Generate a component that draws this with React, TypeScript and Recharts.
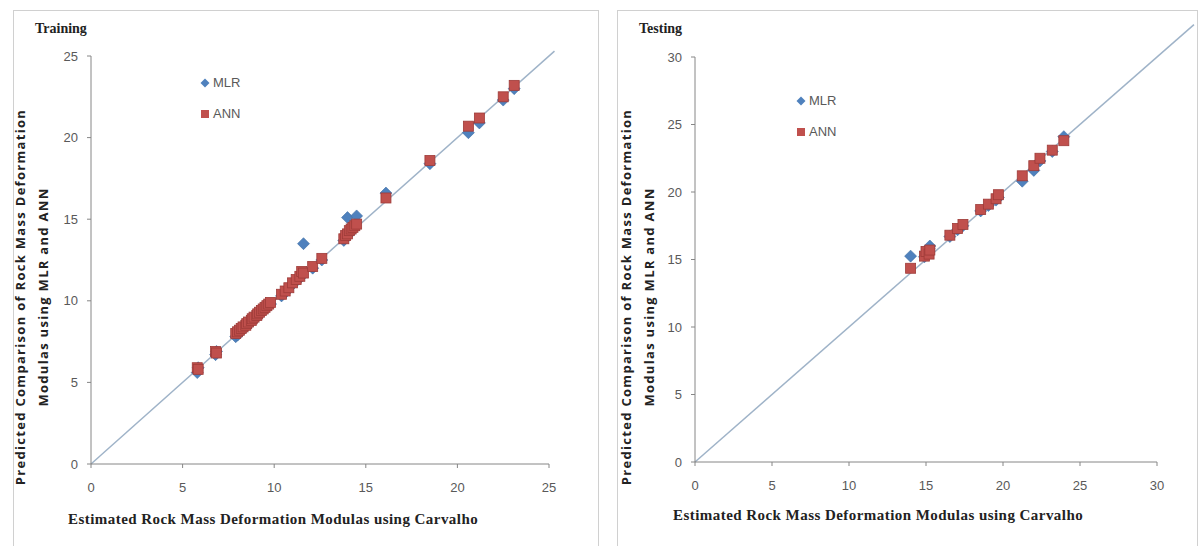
import { ScatterChart, Scatter, XAxis, YAxis, ReferenceLine } from 'recharts';

// Training set: estimated (Carvalho) vs predicted by MLR / ANN
const trainCarvalho = [
  5.8, 5.85, 6.8, 6.85, 7.9, 8.0, 8.1, 8.2, 8.3, 8.45, 8.5, 8.6, 8.75, 8.8, 8.9, 9.05,
  9.1, 9.2, 9.3, 9.4, 9.5, 9.6, 9.7, 9.8, 10.4, 10.6, 10.8, 11.0, 11.2, 11.4, 11.5, 11.6,
  12.1, 12.6, 13.8, 13.9, 14.0, 14.1, 14.2, 14.3, 14.4, 14.5, 16.1, 18.5, 20.6, 21.2, 22.5, 23.1,
];
const trainMLR = [
  5.6, 5.9, 6.7, 6.9, 7.8, 7.9, 8.1, 8.2, 8.3, 8.4, 8.5, 8.6, 8.7, 8.8, 8.9, 9.0,
  9.1, 9.2, 9.3, 9.4, 9.5, 9.6, 9.7, 9.8, 10.3, 10.5, 10.8, 11.0, 11.2, 11.4, 11.6, 13.5,
  12.0, 12.5, 13.7, 13.9, 15.1, 14.1, 14.3, 14.4, 14.5, 15.2, 16.6, 18.4, 20.3, 20.9, 22.3, 23.0,
];
const trainANN = [
  5.9, 5.8, 6.9, 6.8, 8.0, 8.1, 8.2, 8.3, 8.4, 8.5, 8.6, 8.7, 8.8, 8.9, 9.0, 9.1,
  9.2, 9.3, 9.4, 9.5, 9.6, 9.7, 9.8, 9.9, 10.4, 10.6, 10.8, 11.1, 11.3, 11.5, 11.8, 11.7,
  12.1, 12.6, 13.8, 14.0, 14.1, 14.3, 14.4, 14.5, 14.6, 14.7, 16.3, 18.6, 20.7, 21.2, 22.5, 23.2,
];

// Testing set
const testCarvalho = [
  14.0, 14.9, 15.0, 15.2, 15.25, 16.55, 17.05, 17.4, 18.55, 19.05, 19.55, 19.7,
  21.25, 22.0, 22.4, 23.2, 23.95,
];
const testMLR = [
  15.25, 15.2, 15.5, 15.8, 16.0, 16.7, 17.2, 17.5, 18.6, 19.0, 19.4, 19.6,
  20.8, 21.6, 22.3, 23.0, 24.1,
];
const testANN = [
  14.35, 15.25, 15.6, 15.4, 15.7, 16.8, 17.3, 17.6, 18.7, 19.1, 19.5, 19.8,
  21.2, 21.95, 22.5, 23.1, 23.8,
];

const trainTicks = [0, 5, 10, 15, 20, 25];
const testTicks = [0, 5, 10, 15, 20, 25, 30];
const trainLineEnd = 25.3;
const testLineEnd = 32.4;

const MLR_COLOR = '#4F81BD';
const ANN_COLOR = '#C0504D';
const AXIS_COLOR = '#868686';
const TICK_TEXT = '#595959';

const Diamond = (props: any) => {
  const { cx, cy } = props;
  const r = 6;
  return (
    <polygon
      points={`${cx},${cy - r} ${cx + r},${cy} ${cx},${cy + r} ${cx - r},${cy}`}
      fill={MLR_COLOR}
      stroke="#3f6ea5"
      strokeWidth={0.6}
    />
  );
};

const Square = (props: any) => {
  const { cx, cy } = props;
  const s = 5;
  return (
    <rect x={cx - s} y={cy - s} width={s * 2} height={s * 2} fill={ANN_COLOR} stroke="#9e3b38" strokeWidth={0.8} />
  );
};

interface PanelProps {
  left: number;
  width: number;
  title: string;
  xs: number[];
  mlr: number[];
  ann: number[];
  ticks: number[];
  lineEnd: number;
  marginRight: number;
  marginTop: number;
  marginBottom: number;
  legendX: number;
  legendY: number;
  yLabelX: number;
  xLabelX: number;
  xLabelY: number;
}

function Panel(p: PanelProps) {
  const mlrData = p.xs.map((x, i) => ({ x, y: p.mlr[i] }));
  const annData = p.xs.map((x, i) => ({ x, y: p.ann[i] }));
  const max = p.ticks[p.ticks.length - 1];
  const height = 536;

  return (
    <>
      <div
        style={{
          position: 'absolute',
          left: p.left,
          top: 10,
          width: p.width,
          height: 560,
          border: '1px solid #d0d0d0',
          boxSizing: 'border-box',
        }}
      />
      <div style={{ position: 'absolute', left: p.left, top: 10 }}>
        <ScatterChart
          width={p.width}
          height={height}
          margin={{ top: p.marginTop, right: p.marginRight, left: 0, bottom: p.marginBottom }}
        >
          <XAxis
            type="number"
            dataKey="x"
            domain={[0, max]}
            ticks={p.ticks}
            height={30}
            stroke={AXIS_COLOR}
            tickSize={4}
            tickMargin={15}
            tick={{ fill: TICK_TEXT, fontSize: 13, fontFamily: 'Liberation Sans' }}
          />
          <YAxis
            type="number"
            dataKey="y"
            domain={[0, max]}
            ticks={p.ticks}
            width={78}
            stroke={AXIS_COLOR}
            tickSize={4}
            tickMargin={9}
            tick={{ fill: TICK_TEXT, fontSize: 13, fontFamily: 'Liberation Sans' }}
          />
          <ReferenceLine
            segment={[
              { x: 0, y: 0 },
              { x: p.lineEnd, y: p.lineEnd },
            ]}
            ifOverflow="visible"
            stroke="#9fb3c8"
            strokeWidth={1.5}
          />
          <Scatter name="MLR" data={mlrData} shape={Diamond} isAnimationActive={false} />
          <Scatter name="ANN" data={annData} shape={Square} isAnimationActive={false} />
        </ScatterChart>
      </div>

      {/* title */}
      <div
        style={{
          position: 'absolute',
          left: p.left + 22,
          top: 21,
          fontFamily: 'Liberation Serif',
          fontWeight: 'bold',
          fontSize: 14,
          color: '#222',
        }}
      >
        {p.title}
      </div>

      {/* legend */}
      <div
        style={{
          position: 'absolute',
          left: p.legendX,
          top: p.legendY,
          fontFamily: 'Liberation Sans',
          fontSize: 13,
          color: TICK_TEXT,
          lineHeight: '31px',
        }}
      >
        <div style={{ display: 'flex', alignItems: 'center' }}>
          <svg width={12} height={12} style={{ marginRight: 2 }}>
            <polygon points="6,1.5 10.5,6 6,10.5 1.5,6" fill={MLR_COLOR} />
          </svg>
          MLR
        </div>
        <div style={{ display: 'flex', alignItems: 'center' }}>
          <svg width={12} height={12} style={{ marginRight: 2 }}>
            <rect x={2} y={2} width={8} height={8} fill={ANN_COLOR} />
          </svg>
          ANN
        </div>
      </div>

      {/* y axis title */}
      <div
        style={{
          position: 'absolute',
          left: p.yLabelX,
          top: 297,
          transform: 'translate(-50%, -50%) rotate(-90deg)',
          whiteSpace: 'nowrap',
          textAlign: 'center',
          fontFamily: 'Open Sans',
          fontWeight: 'bold',
          fontSize: 13,
          letterSpacing: 1.3,
          lineHeight: '23px',
          color: '#222',
        }}
      >
        <div>Predicted Comparison of Rock Mass Deformation</div>
        <div>Modulas using MLR and ANN</div>
      </div>

      {/* x axis title */}
      <div
        style={{
          position: 'absolute',
          left: p.xLabelX,
          top: p.xLabelY,
          whiteSpace: 'nowrap',
          fontFamily: 'Liberation Serif',
          fontWeight: 'bold',
          fontSize: 15,
          letterSpacing: 0.45,
          color: '#222',
        }}
      >
        Estimated Rock Mass Deformation Modulas using Carvalho
      </div>
    </>
  );
}

export default function App() {
  return (
    <div
      style={{
        position: 'absolute',
        left: 0,
        top: 0,
        width: 1202,
        height: 546,
        overflow: 'hidden',
        background: '#fff',
      }}
    >
      <Panel
        left={13}
        width={586}
        title="Training"
        xs={trainCarvalho}
        mlr={trainMLR}
        ann={trainANN}
        ticks={trainTicks}
        lineEnd={trainLineEnd}
        marginRight={50}
        marginTop={46}
        marginBottom={52}
        legendX={199}
        legendY={67}
        yLabelX={32}
        xLabelX={68}
        xLabelY={511}
      />
      <Panel
        left={617}
        width={581}
        title="Testing"
        xs={testCarvalho}
        mlr={testMLR}
        ann={testANN}
        ticks={testTicks}
        lineEnd={testLineEnd}
        marginRight={41}
        marginTop={47}
        marginBottom={54}
        legendX={795}
        legendY={85}
        yLabelX={638}
        xLabelX={673}
        xLabelY={507}
      />
    </div>
  );
}
